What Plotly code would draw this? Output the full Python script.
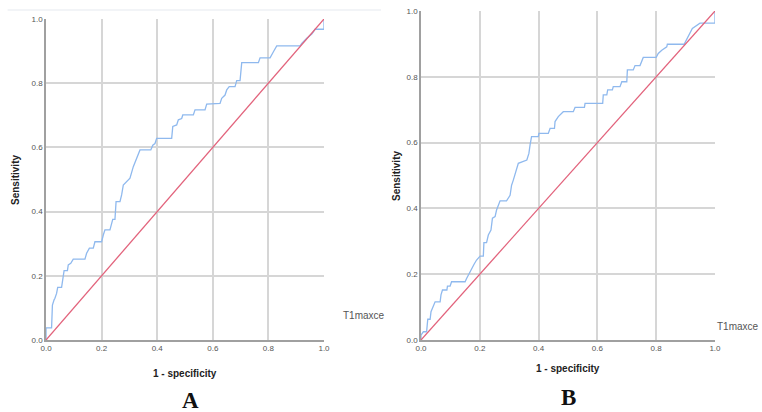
import plotly.graph_objects as go

# ROC points (1 - specificity, sensitivity)
fpr_a = [0, 0, 0.02, 0.023, 0.029, 0.032, 0.038, 0.042, 0.056, 0.06, 0.065, 0.077, 0.08, 0.089,
         0.092, 0.098, 0.14, 0.146, 0.156, 0.17, 0.176, 0.2, 0.206, 0.212, 0.23, 0.24, 0.248,
         0.252, 0.266, 0.272, 0.278, 0.302, 0.314, 0.324, 0.329, 0.338, 0.377, 0.384, 0.392,
         0.398, 0.452, 0.456, 0.47, 0.476, 0.488, 0.492, 0.53, 0.536, 0.572, 0.578, 0.626,
         0.632, 0.644, 0.65, 0.659, 0.68, 0.686, 0.698, 0.704, 0.764, 0.77, 0.806, 0.818,
         0.83, 0.914, 0.92, 0.938, 0.956, 0.968, 0.995, 1.0, 1.0]
tpr_a = [0, 0.038, 0.038, 0.109, 0.125, 0.13, 0.145, 0.164, 0.164, 0.197, 0.216, 0.216, 0.234,
         0.239, 0.244, 0.252, 0.252, 0.27, 0.286, 0.286, 0.306, 0.306, 0.327, 0.343, 0.343,
         0.376, 0.376, 0.431, 0.431, 0.452, 0.483, 0.504, 0.54, 0.561, 0.576, 0.592, 0.592,
         0.607, 0.612, 0.628, 0.628, 0.665, 0.67, 0.686, 0.69, 0.701, 0.701, 0.717, 0.717,
         0.735, 0.737, 0.753, 0.763, 0.779, 0.789, 0.789, 0.808, 0.808, 0.864, 0.864, 0.879,
         0.879, 0.898, 0.916, 0.916, 0.924, 0.94, 0.953, 0.968, 0.968, 0.968, 1.0]

fpr_b = [0, 0, 0.008, 0.019, 0.023, 0.031, 0.034, 0.039, 0.044, 0.048, 0.065, 0.068, 0.073,
         0.088, 0.09, 0.099, 0.104, 0.15, 0.155, 0.161, 0.167, 0.175, 0.181, 0.189, 0.195,
         0.201, 0.212, 0.214, 0.223, 0.229, 0.238, 0.243, 0.252, 0.257, 0.269, 0.291, 0.303,
         0.308, 0.314, 0.325, 0.331, 0.36, 0.367, 0.371, 0.376, 0.399, 0.401, 0.433, 0.439,
         0.454, 0.456, 0.467, 0.484, 0.518, 0.524, 0.556, 0.558, 0.618, 0.62, 0.632, 0.635,
         0.651, 0.654, 0.677, 0.683, 0.70, 0.702, 0.722, 0.728, 0.745, 0.756, 0.80, 0.807,
         0.819, 0.836, 0.838, 0.895, 0.923, 0.949, 1.0, 1.0]
tpr_b = [0, 0.015, 0.025, 0.025, 0.063, 0.063, 0.086, 0.096, 0.106, 0.116, 0.116, 0.137, 0.152,
         0.152, 0.164, 0.164, 0.177, 0.177, 0.187, 0.198, 0.208, 0.221, 0.231, 0.243, 0.248,
         0.255, 0.255, 0.296, 0.296, 0.319, 0.334, 0.37, 0.375, 0.395, 0.423, 0.423, 0.44,
         0.47, 0.486, 0.517, 0.537, 0.547, 0.567, 0.593, 0.618, 0.618, 0.628, 0.628, 0.643,
         0.643, 0.664, 0.679, 0.694, 0.694, 0.707, 0.707, 0.719, 0.719, 0.745, 0.745, 0.76,
         0.76, 0.77, 0.77, 0.785, 0.785, 0.821, 0.821, 0.834, 0.834, 0.859, 0.859, 0.871,
         0.881, 0.891, 0.899, 0.899, 0.947, 0.963, 0.963, 1.0]

ref_line = [0, 1]
ticks = [0, 0.2, 0.4, 0.6, 0.8, 1.0]
tick_text = ["0.0", "0.2", "0.4", "0.6", "0.8", "1.0"]

roc_color = "#8fb9ee"
ref_color = "#e2637c"

fig = go.Figure()
for xs, ys, xa, ya in [(fpr_a, tpr_a, "x", "y"), (fpr_b, tpr_b, "x2", "y2")]:
    fig.add_trace(go.Scatter(x=xs, y=ys, mode="lines", xaxis=xa, yaxis=ya,
                             line=dict(color=roc_color, width=1.3), showlegend=False))
    fig.add_trace(go.Scatter(x=ref_line, y=ref_line, mode="lines", xaxis=xa, yaxis=ya,
                             line=dict(color=ref_color, width=1.3), showlegend=False))

axis_style = dict(range=[0, 1], tickvals=ticks, ticktext=tick_text, showgrid=True,
                  gridcolor="#d6d6d6", gridwidth=1.5, zeroline=False, showline=True,
                  linecolor="#a0a0a0", linewidth=1.5, ticks="", automargin=False,
                  tickfont=dict(family="Arial", size=8, color="#555555"), fixedrange=True)

fig.update_layout(
    width=762, height=412, margin=dict(l=0, r=0, t=0, b=0, autoexpand=False),
    paper_bgcolor="white", plot_bgcolor="white",
    xaxis=dict(domain=[0.0604, 0.4252], anchor="y", **axis_style),
    yaxis=dict(domain=[0.1748, 0.9539], anchor="x", **axis_style),
    xaxis2=dict(domain=[0.5525, 0.9383], anchor="y2", **axis_style),
    yaxis2=dict(domain=[0.1748, 0.9733], anchor="x2", **axis_style),
)

# faint strip along the top of the left panel
fig.add_shape(type="line", xref="paper", yref="paper", x0=0.01, x1=0.5, y0=0.976, y1=0.976,
              line=dict(color="#eef0f4", width=1.5))

title_font = dict(family="Arial", size=10, color="#222222")
gray_font = dict(family="Arial", size=10, color="#555555")
notes = [
    (185, 373, "<b>1 - specificity</b>", 0, title_font, "center"),
    (568, 368, "<b>1 - specificity</b>", 0, title_font, "center"),
    (15, 180, "<b>Sensitivity</b>", -90, title_font, "center"),
    (396, 176, "<b>Sensitivity</b>", -90, title_font, "center"),
    (364, 315, "T1maxce", 0, gray_font, "center"),
    (761, 326, "T1maxce", 0, gray_font, "right"),
    (190, 400, "<b>A</b>", 0, dict(family="Liberation Serif", size=23, color="#111111"), "center"),
    (568, 397, "<b>B</b>", 0, dict(family="Liberation Serif", size=23, color="#111111"), "center"),
]
for px, py, txt, ang, fnt, anc in notes:
    fig.add_annotation(x=px / 762, y=1 - py / 412, xref="paper", yref="paper", text=txt,
                       textangle=ang, showarrow=False, font=fnt, xanchor=anc, yanchor="middle")

fig.write_html("out.html", config={"displayModeBar": False},
               post_script="document.body.style.margin='0';")
